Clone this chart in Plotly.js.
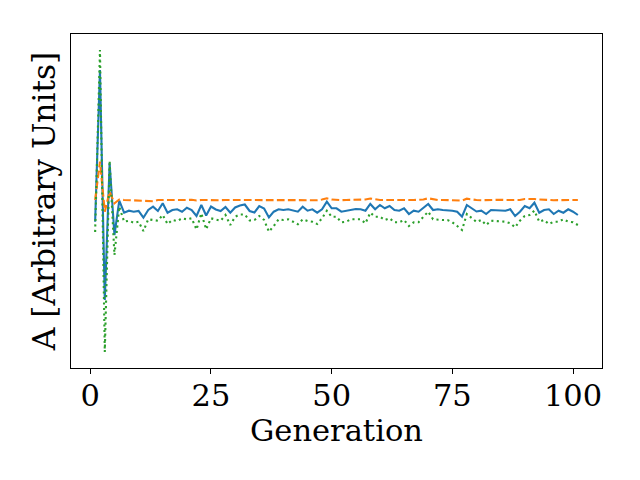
<!DOCTYPE html>
<html>
<head>
<meta charset="utf-8">
<script src="https://cdn.plot.ly/plotly-3.0.1.min.js"></script>
<style>
  html, body { margin: 0; padding: 0; background: #fff; }
  #chart { width: 640px; height: 480px; }
</style>
</head>
<body>
<div id="chart"></div>
<script>
// Three series over 101 generations, values in arbitrary units
const generations = Array.from({ length: 101 }, (_, i) => i + 1);

const seriesA = [
  14.63, 29.8, 6.8, 20.47, 13.3, 16.73, 15.53, 15.73, 15.63, 15.7,
  15.03, 15.8, 16.13, 15.7, 16.47, 15.53, 15.8, 15.87, 15.63, 16.03,
  15.8, 15.2, 16.3, 15.25, 16.15, 15.85, 15.7, 16.1, 15.53, 16.05,
  16.25, 16.35, 15.7, 15.55, 16.2, 15.95, 15.05, 15.63, 15.87, 15.8,
  15.87, 15.73, 15.63, 16.13, 15.73, 15.87, 15.53, 15.87, 16.63, 15.97,
  15.97, 15.63, 15.73, 15.8, 15.9, 15.87, 15.73, 16.4, 15.87, 16.3,
  15.97, 16.2, 15.8, 15.73, 15.97, 15.4, 15.73, 15.63, 15.97, 16.4,
  15.8, 15.87, 15.8, 15.8, 15.73, 15.63, 15.13, 16.3, 15.97, 15.65,
  15.73, 15.4, 15.8, 15.8, 15.73, 15.73, 15.87, 15.2, 15.63, 16.2,
  15.97, 16.53, 15.53, 15.8, 15.87, 15.4, 15.73, 15.53, 15.87, 15.63,
  15.3
];

const seriesB = [
  16.8, 20.63, 15.63, 17.63, 16.47, 16.85, 16.8, 16.78, 16.75, 16.72,
  16.7, 16.72, 16.68, 16.8, 16.82, 16.78, 16.8, 16.8, 16.78, 16.8,
  16.82, 16.75, 16.8, 16.78, 16.82, 16.8, 16.78, 16.8, 16.8, 16.82,
  16.8, 16.78, 16.8, 16.8, 16.75, 16.8, 16.82, 16.78, 16.8, 16.8,
  16.8, 16.78, 16.8, 16.8, 16.82, 16.8, 16.78, 16.85, 16.97, 16.85,
  16.8, 16.78, 16.8, 16.8, 16.82, 16.8, 16.85, 16.95, 16.85, 16.8,
  16.8, 16.82, 16.78, 16.8, 16.8, 16.78, 16.8, 16.82, 16.85, 16.97,
  16.85, 16.8, 16.8, 16.8, 16.78, 16.8, 16.75, 16.93, 16.85, 16.8,
  16.78, 16.8, 16.8, 16.8, 16.82, 16.8, 16.8, 16.78, 16.8, 16.9,
  16.92, 16.9, 16.85, 16.8, 16.8, 16.78, 16.8, 16.8, 16.82, 16.8,
  16.8
];

const seriesC = [
  13.6, 31.8, 1.6, 20.73, 11.3, 16.13, 14.63, 14.73, 14.53, 14.63,
  13.7, 14.87, 14.8, 14.73, 15.3, 14.4, 14.8, 14.7, 14.97, 14.87,
  14.97, 13.85, 15.47, 13.87, 14.97, 14.87, 14.73, 15.3, 14.3, 15.13,
  15.35, 15.35, 14.75, 14.8, 15.2, 14.8, 13.63, 14.2, 14.87, 14.8,
  14.87, 14.63, 14.37, 14.87, 14.7, 14.63, 14.4, 14.97, 15.73, 15.13,
  15.13, 14.57, 14.63, 14.87, 14.85, 14.87, 14.47, 15.53, 15.13, 15.13,
  14.8, 14.97, 14.57, 14.57, 14.8, 14.2, 14.57, 14.57, 15.13, 15.63,
  14.87, 14.8, 14.8, 14.8, 14.57, 14.2, 13.8, 15.4, 14.97, 14.6,
  14.8, 14.3, 14.73, 14.7, 14.7, 14.63, 14.47, 14.07, 14.73, 15.2,
  15.3, 15.73, 14.63, 14.8, 14.4, 14.63, 14.63, 14.87, 14.63, 14.57,
  14.3
];

const xTicks = [0, 25, 50, 75, 100];

const FONT = "DejaVu Serif, Liberation Serif, serif";

const traces = [
  { x: generations, y: seriesA, mode: "lines", line: { color: "#1f77b4", width: 2.1 } },
  { x: generations, y: seriesB, mode: "lines", line: { color: "#ff7f0e", width: 2.1, dash: "7.7px,3.3px" } },
  { x: generations, y: seriesC, mode: "lines", line: { color: "#2ca02c", width: 2.1, dash: "2.1px,3.4px" } },
];

const layout = {
  width: 640, height: 480,
  paper_bgcolor: "#fff", plot_bgcolor: "#fff",
  showlegend: false,
  font: { family: FONT, size: 30, color: "#000" },
  margin: { l: 71, r: 38, t: 34, b: 112 },
  xaxis: {
    range: [-4, 106],
    tickvals: xTicks, ticktext: xTicks.map(String),
    ticks: "outside", ticklen: 5, tickwidth: 1, tickcolor: "#000",
    ticklabelstandoff: -5,
    showline: true, linecolor: "#000", linewidth: 1, mirror: true,
    showgrid: false, zeroline: false,
    tickfont: { family: FONT, size: 30.5, color: "#000" },
  },
  yaxis: {
    range: [0, 33.4],
    showticklabels: false, ticks: "",
    showline: true, linecolor: "#000", linewidth: 1, mirror: true,
    showgrid: false, zeroline: false,
    title: { text: "A [Arbitrary Units]", font: { family: FONT, size: 31.3, color: "#000" }, standoff: 5 },
  },
  // x-axis title placed as an annotation so it can sit a little closer to the ticks
  annotations: [{
    text: "Generation", xref: "paper", yref: "paper",
    x: 0.5, y: -0.187, xanchor: "center", yanchor: "middle",
    showarrow: false, font: { family: FONT, size: 30.5, color: "#000" },
  }],
};

Plotly.newPlot("chart", traces, layout, { displayModeBar: false, staticPlot: true });
</script>
</body>
</html>
